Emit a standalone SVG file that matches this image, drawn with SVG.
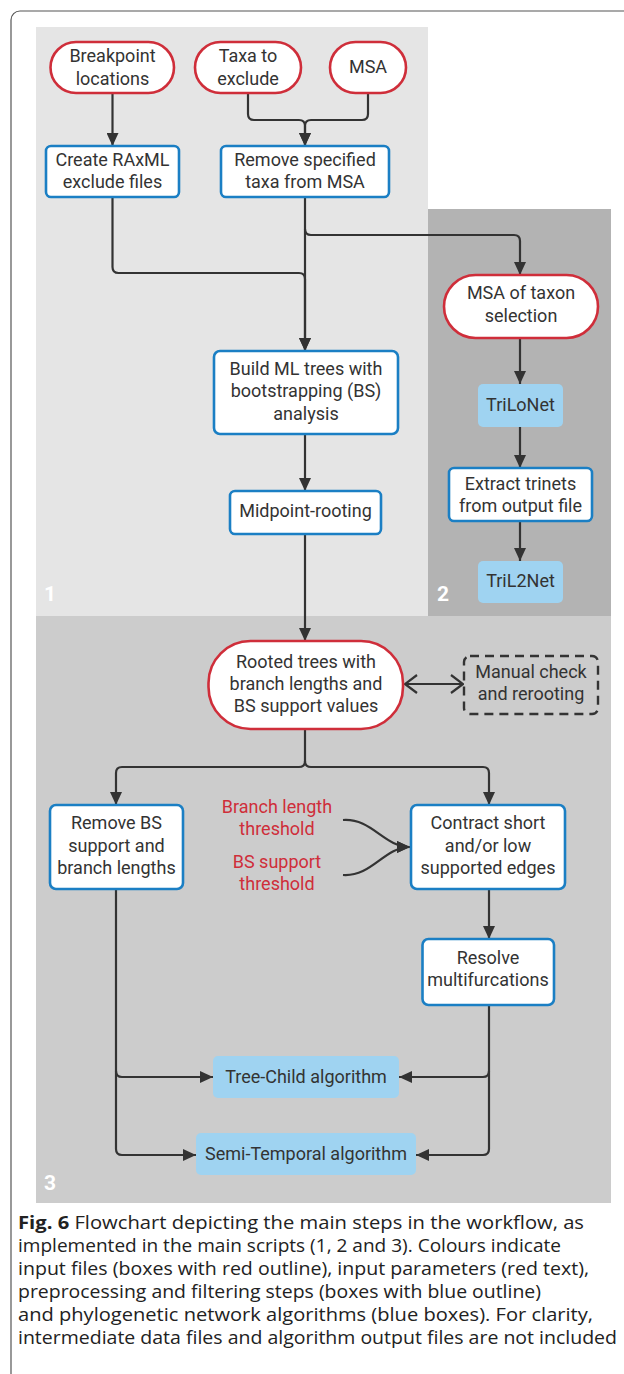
<svg xmlns="http://www.w3.org/2000/svg" width="624" height="1374" viewBox="0 0 624 1374">
<defs>
<marker id="ah" markerUnits="userSpaceOnUse" markerWidth="13" markerHeight="12" refX="13" refY="6" orient="auto">
<path d="M0,0 L13,6 L0,12 z" fill="#333"/>
</marker>
<marker id="oa" markerUnits="userSpaceOnUse" markerWidth="14" markerHeight="20" refX="13" refY="10" orient="auto-start-reverse">
<path d="M1,1 L13,10 L1,19" fill="none" stroke="#333" stroke-width="2.2"/>
</marker>
<style>
.in{fill:#fff;stroke:#cf2e3a;stroke-width:2.6}
.pp{fill:#fff;stroke:#1b7fc4;stroke-width:2.6}
.al{fill:#9fd3f1}
.dash{fill:#ccc;stroke:#333;stroke-width:2.4;stroke-dasharray:9 6}
.t{font-family:Roboto,"Liberation Sans",sans-serif;font-size:18px;fill:#333;text-anchor:middle}
.r{font-family:Roboto,"Liberation Sans",sans-serif;font-size:18px;fill:#cf2e3a;text-anchor:middle}
.num{font-family:Roboto,"Liberation Sans",sans-serif;font-size:21px;font-weight:bold;fill:#fff}
.c{fill:none;stroke:#333;stroke-width:2.2}
.cap{font-family:"Open Sans","Liberation Sans",sans-serif;font-size:18px;fill:#222}
</style>
</defs>
<rect x="11" y="11" width="700" height="1390" rx="9" fill="#fff" stroke="#555" stroke-width="1.2"/>
<g id="panels">
<rect x="36" y="27" width="392" height="589" fill="#e5e5e5"/>
<rect x="428" y="209" width="183" height="407" fill="#b3b3b3"/>
<rect x="36" y="616" width="575" height="587" fill="#cccccc"/>
<text class="num" x="44" y="601">1</text>
<text class="num" x="437" y="601">2</text>
<text class="num" x="44" y="1190">3</text>
</g>
<g id="connectors">
<path class="c" d="M112.5 93 V146" marker-end="url(#ah)"/>
<path class="c" d="M248 93 V114 Q248 120 254 120 H299 Q305 120 305 126 V146" marker-end="url(#ah)"/>
<path class="c" d="M368 93 V114 Q368 120 362 120 H311 Q305 120 305 126 V146" marker-end="url(#ah)"/>
<path class="c" d="M112.5 197 V267 Q112.5 273 118.5 273 H299 Q305 273 305 279 V351" marker-end="url(#ah)"/>
<path class="c" d="M305 197 V351" marker-end="url(#ah)"/>
<path class="c" d="M305 229 Q305 235 311 235 H514 Q520 235 520 241 V275" marker-end="url(#ah)"/>
<path class="c" d="M520 338 V384" marker-end="url(#ah)"/>
<path class="c" d="M520 427 V468" marker-end="url(#ah)"/>
<path class="c" d="M520 521 V561" marker-end="url(#ah)"/>
<path class="c" d="M305 434 V491" marker-end="url(#ah)"/>
<path class="c" d="M305 534 V641" marker-end="url(#ah)"/>
<path class="c" d="M405 684 H463" marker-start="url(#oa)" marker-end="url(#oa)"/>
<path class="c" d="M305 729 V761 Q305 767 299 767 H122 Q116 767 116 773 V805" marker-end="url(#ah)"/>
<path class="c" d="M305 761 Q305 767 311 767 H483 Q489 767 489 773 V805" marker-end="url(#ah)"/>
<path class="c" d="M489 889 V939" marker-end="url(#ah)"/>
<path class="c" d="M116 889 V1071 Q116 1077 122 1077 H213" marker-end="url(#ah)"/>
<path class="c" d="M116 1071 V1149 Q116 1155 122 1155 H196" marker-end="url(#ah)"/>
<path class="c" d="M489 1005 V1071 Q489 1077 483 1077 H399" marker-end="url(#ah)"/>
<path class="c" d="M489 1071 V1149 Q489 1155 483 1155 H416" marker-end="url(#ah)"/>
<path class="c" d="M343 820 C372 818 384 847 410 847" marker-end="url(#ah)"/>
<path class="c" d="M343 875 C372 877 384 847 410 847" marker-end="url(#ah)"/>
</g>
<g id="breakpoint"><rect class="in" x="50.5" y="42" width="123.5" height="51" rx="25.5"/><text class="t" x="112.5" y="62">Breakpoint</text><text class="t" x="112.5" y="85">locations</text></g>
<g id="taxa"><rect class="in" x="195" y="42" width="106" height="51" rx="25.5"/><text class="t" x="248" y="62">Taxa to</text><text class="t" x="248" y="85">exclude</text></g>
<g id="msa"><rect class="in" x="330" y="42" width="76" height="51" rx="25.5"/><text class="t" x="368" y="73">MSA</text></g>
<g id="create"><rect class="pp" x="46" y="146" width="133" height="51" rx="5"/><text class="t" x="112.5" y="166">Create RAxML</text><text class="t" x="112.5" y="188">exclude files</text></g>
<g id="remove"><rect class="pp" x="221" y="146" width="168" height="51" rx="5"/><text class="t" x="305" y="166">Remove specified</text><text class="t" x="305" y="188">taxa from MSA</text></g>
<g id="msataxon"><rect class="in" x="444" y="275" width="154" height="63" rx="31.5"/><text class="t" x="521" y="299">MSA of taxon</text><text class="t" x="521" y="322">selection</text></g>
<g id="build"><rect class="pp" x="214" y="351" width="184" height="83" rx="6"/><text class="t" x="306" y="375">Build ML trees with</text><text class="t" x="306" y="397">bootstrapping (BS)</text><text class="t" x="306" y="420">analysis</text></g>
<g id="midpoint"><rect class="pp" x="230" y="491" width="151" height="43" rx="5"/><text class="t" x="305.5" y="517">Midpoint-rooting</text></g>
<g id="trilonet"><rect class="al" x="478" y="384" width="85" height="43" rx="5"/><text class="t" x="520.5" y="411">TriLoNet</text></g>
<g id="extract"><rect class="pp" x="449" y="468" width="143" height="53" rx="5"/><text class="t" x="520.5" y="490">Extract trinets</text><text class="t" x="520.5" y="512">from output file</text></g>
<g id="tril2net"><rect class="al" x="478" y="561" width="85" height="42" rx="5"/><text class="t" x="520.5" y="587">TriL2Net</text></g>
<g id="rooted"><rect class="in" x="208.5" y="641" width="194.5" height="88" rx="42"/><text class="t" x="306" y="668">Rooted trees with</text><text class="t" x="306" y="690">branch lengths and</text><text class="t" x="306" y="712">BS support values</text></g>
<g id="manual"><rect class="dash" x="464" y="656" width="134" height="58" rx="6"/><text class="t" x="531" y="678">Manual check</text><text class="t" x="531" y="700">and rerooting</text></g>
<g id="removebs"><rect class="pp" x="50" y="805" width="133" height="84" rx="6"/><text class="t" x="116.5" y="829">Remove BS</text><text class="t" x="116.5" y="852">support and</text><text class="t" x="116.5" y="874">branch lengths</text></g>
<g id="params"><text class="r" x="277" y="813">Branch length</text><text class="r" x="277" y="835">threshold</text><text class="r" x="277" y="868">BS support</text><text class="r" x="277" y="890">threshold</text></g>
<g id="contract"><rect class="pp" x="411" y="805" width="154" height="84" rx="6"/><text class="t" x="488" y="829">Contract short</text><text class="t" x="488" y="852">and/or low</text><text class="t" x="488" y="874">supported edges</text></g>
<g id="resolve"><rect class="pp" x="422.5" y="939" width="131.5" height="66" rx="6"/><text class="t" x="488" y="964">Resolve</text><text class="t" x="488" y="986">multifurcations</text></g>
<g id="treechild"><rect class="al" x="213" y="1056" width="186" height="42" rx="5"/><text class="t" x="306" y="1083">Tree-Child algorithm</text></g>
<g id="semitemporal"><rect class="al" x="196" y="1133" width="220" height="42" rx="5"/><text class="t" x="306" y="1160">Semi-Temporal algorithm</text></g>
<g id="caption">
<text class="cap" x="18" y="1229" textLength="566" lengthAdjust="spacingAndGlyphs"><tspan font-weight="bold">Fig. 6</tspan>  Flowchart depicting the main steps in the workflow, as</text>
<text class="cap" x="18" y="1252" textLength="543" lengthAdjust="spacingAndGlyphs">implemented in the main scripts (1, 2 and 3). Colours indicate</text>
<text class="cap" x="18" y="1275" textLength="571" lengthAdjust="spacingAndGlyphs">input files (boxes with red outline), input parameters (red text),</text>
<text class="cap" x="18" y="1298" textLength="523" lengthAdjust="spacingAndGlyphs">preprocessing and filtering steps (boxes with blue outline)</text>
<text class="cap" x="18" y="1321" textLength="575" lengthAdjust="spacingAndGlyphs">and phylogenetic network algorithms (blue boxes). For clarity,</text>
<text class="cap" x="18" y="1344" textLength="599" lengthAdjust="spacingAndGlyphs">intermediate data files and algorithm output files are not included</text>
</g>
</svg>
